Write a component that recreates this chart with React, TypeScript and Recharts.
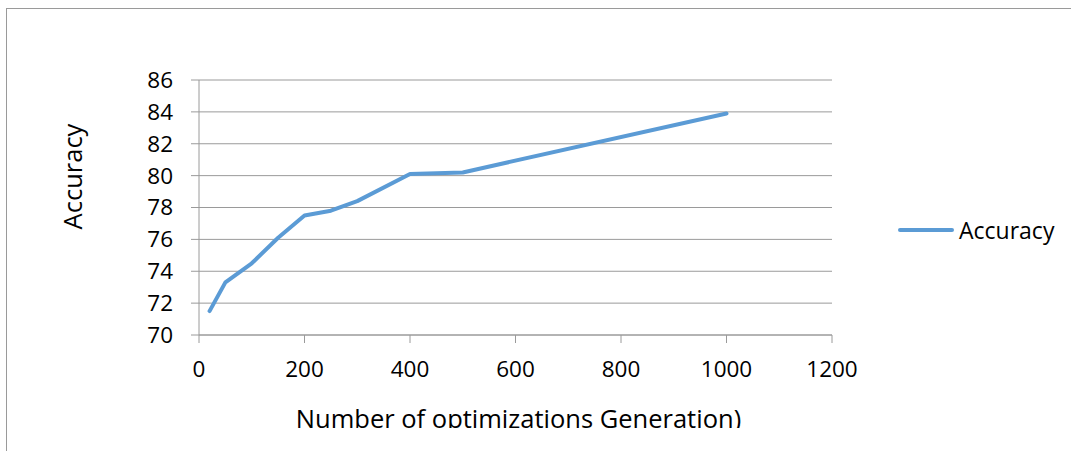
import React from 'react';
import { LineChart, Line, XAxis, YAxis, CartesianGrid, Legend, Label } from 'recharts';

const generations = [20, 50, 100, 150, 200, 250, 300, 400, 500, 1000];
const accuracy = [71.5, 73.3, 74.5, 76.1, 77.5, 77.8, 78.4, 80.1, 80.2, 83.9];
const xTicks = [0, 200, 400, 600, 800, 1000, 1200];
const yTicks = [70, 72, 74, 76, 78, 80, 82, 84, 86];
const seriesName = 'Accuracy';
const xTitle = 'Number of optimizations Generation)';
const yTitle = 'Accuracy';

const data = generations.map((g, i) => ({ x: g, y: accuracy[i] }));

const FONT = '"Open Sans", sans-serif';
const AXIS = '#9a9a9a';
const BLUE = '#5b9bd5';

const LegendContent = () => (
  <div style={{ display: 'flex', alignItems: 'center', height: 28 }}>
    <svg width={56} height={8} style={{ display: 'block' }}>
      <line x1={2} y1={4} x2={54} y2={4} stroke={BLUE} strokeWidth={4} strokeLinecap="round" />
    </svg>
    <span style={{ fontFamily: FONT, fontSize: 23, color: '#000', marginLeft: 5, lineHeight: '28px' }}>{seriesName}</span>
  </div>
);

export default function App() {
  return (
    <div style={{ position: 'fixed', left: 0, top: 0, width: 1071, height: 451, overflow: 'hidden', background: '#fff' }}>
      <div style={{ position: 'absolute', left: 6, top: 8, width: 1100, height: 500, borderLeft: `1px solid ${AXIS}`, borderTop: `1px solid ${AXIS}` }} />
      <div style={{ position: 'absolute', left: 0, top: 0, width: 1071, height: 428, overflow: 'hidden' }}>
        <LineChart width={1071} height={451} data={data} margin={{ top: 80, right: 79, bottom: 76, left: 0 }}>
          <CartesianGrid horizontal vertical={false} stroke={AXIS} strokeWidth={1} />
          <XAxis
            type="number"
            dataKey="x"
            domain={[0, 1200]}
            ticks={xTicks}
            interval={0}
            height={40}
            tickSize={8}
            tickMargin={18}
            stroke={AXIS}
            tick={{ fill: '#000', fontFamily: FONT, fontSize: 22.5 }}
          >
            <Label
              content={(props: any) => {
                const vb = props.viewBox || {};
                return (
                  <text x={vb.x + vb.width / 2 + 3} y={428} textAnchor="middle" fontFamily={FONT} fontSize={25.5} fill="#000">
                    {xTitle}
                  </text>
                );
              }}
            />
          </XAxis>
          <YAxis
            type="number"
            domain={[70, 86]}
            ticks={yTicks}
            interval={0}
            width={199}
            tickSize={8}
            tickMargin={18}
            stroke={AXIS}
            tick={{ fill: '#000', fontFamily: FONT, fontSize: 22.5 }}
          >
            <Label
              content={(props: any) => {
                const vb = props.viewBox || {};
                const x = vb.x + 82;
                const y = vb.y + vb.height / 2 - 31;
                return (
                  <text x={x} y={y} transform={`rotate(-90, ${x}, ${y})`} textAnchor="middle" fontFamily={FONT} fontSize={25.5} fill="#000">
                    {yTitle}
                  </text>
                );
              }}
            />
          </YAxis>
          <Legend
            layout="vertical"
            align="right"
            verticalAlign="middle"
            content={<LegendContent />}
            wrapperStyle={{ width: 160, height: 28, left: 898, right: 'auto', top: 216 }}
          />
          <Line
            type="linear"
            dataKey="y"
            name={seriesName}
            stroke={BLUE}
            strokeWidth={4}
            strokeLinejoin="round"
            strokeLinecap="round"
            dot={false}
            activeDot={false}
            isAnimationActive={false}
          />
        </LineChart>
      </div>
    </div>
  );
}
